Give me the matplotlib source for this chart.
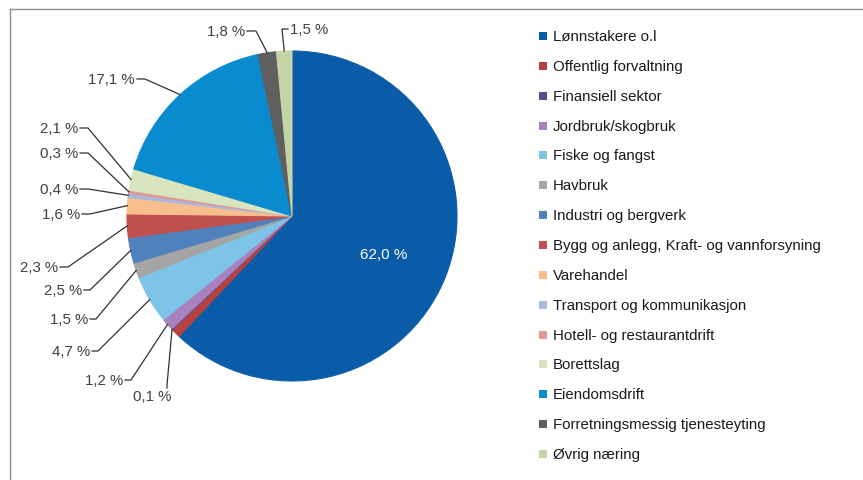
import numpy as np
import matplotlib
matplotlib.use("Agg")
import matplotlib.pyplot as plt
import matplotlib.patches as patches

plt.rcParams["font.family"] = ["Liberation Sans", "DejaVu Sans"]

# data
categories = [
    "Lønnstakere o.l",
    "Offentlig forvaltning",
    "Finansiell sektor",
    "Jordbruk/skogbruk",
    "Fiske og fangst",
    "Havbruk",
    "Industri og bergverk",
    "Bygg og anlegg, Kraft- og vannforsyning",
    "Varehandel",
    "Transport og kommunikasjon",
    "Hotell- og restaurantdrift",
    "Borettslag",
    "Eiendomsdrift",
    "Forretningsmessig tjenesteyting",
    "Øvrig næring",
]
shares = [62.0, 0.9, 0.1, 1.2, 4.7, 1.5, 2.5, 2.3, 1.6, 0.4, 0.3, 2.1, 17.1, 1.8, 1.5]
colors = [
    "#0B5CA8", "#B7413E", "#5F4B8B", "#A882BC", "#7DC4E8",
    "#A5A5A5", "#4F81BD", "#C0504D", "#F9BE8E", "#A9B8DD",
    "#DE9896", "#D7E4BD", "#0A8BD0", "#5F5F5F", "#C3D5A7",
]

# label layout in pixels (y measured from top): text x, text y, alignment, elbow x, elbow y
label_layout = {
    2: (152, 397, "center", 167, 386),
    3: (123, 381, "right", 131, 381),
    4: (90, 352, "right", 98, 352),
    5: (88, 320, "right", 96, 320),
    6: (82, 291, "right", 90, 291),
    7: (58, 268, "right", 68, 268),
    8: (80, 215, "right", 90, 215),
    9: (78, 190, "right", 88, 190),
    10: (78, 154, "right", 88, 154),
    11: (78, 129, "right", 88, 129),
    12: (135, 80, "right", 145, 80),
    13: (245, 32, "right", 256, 32),
    14: (290, 30, "left", 282, 30),
}

W, H = 863, 481
fig = plt.figure(figsize=(W / 100, H / 100), dpi=100)
ax = fig.add_axes([0, 0, 1, 1])

cx, cy, r = 292, H - 217, 165
wedges, _ = ax.pie(shares, colors=colors, startangle=90, counterclock=False,
                   center=(cx, cy), radius=r)
for w in wedges:
    w.set_edgecolor(w.get_facecolor())
    w.set_linewidth(0.8)
ax.set_xlim(0, W)
ax.set_ylim(0, H)
ax.axis("off")

def fmt(v):
    return f"{v:.1f}".replace(".", ",") + " %"

# slice labels with leader lines
cum = np.cumsum([0] + shares)
txt_col = "#404040"
for i, (tx, ty, ha, ex, ey) in label_layout.items():
    mid = np.radians((cum[i] + cum[i + 1]) / 2 * 3.6)
    axx = cx + r * np.sin(mid)
    ayy = cy + r * np.cos(mid)
    ty_d = H - ty
    ax.text(tx, ty_d, fmt(shares[i]), ha=ha, va="center", fontsize=10.8, color=txt_col)
    if ha == "right":
        start = (tx + 2, ty_d)
    elif ha == "left":
        start = (tx - 2, ty_d)
    else:
        start = (ex, ty_d + 8)
    ax.plot([start[0], ex, axx], [start[1], H - ey, ayy], color="#303030", lw=0.9)

ax.text(384, H - 255, fmt(shares[0]), ha="center", va="center", fontsize=11, color="white")

# legend
for i, name in enumerate(categories):
    yy = H - (37 + i * 29.86)
    ax.add_patch(patches.Rectangle((539, yy - 4), 8, 8, facecolor=colors[i], edgecolor="none"))
    ax.text(553, yy, name, ha="left", va="center", fontsize=10.8, color="#1a1a1a")

# frame
ax.plot([10, W], [H - 10, H - 10], color="#8c8c8c", lw=1)
ax.plot([10, 10], [H - 10, 0], color="#8c8c8c", lw=1)

fig.savefig("out.png", dpi=100)
